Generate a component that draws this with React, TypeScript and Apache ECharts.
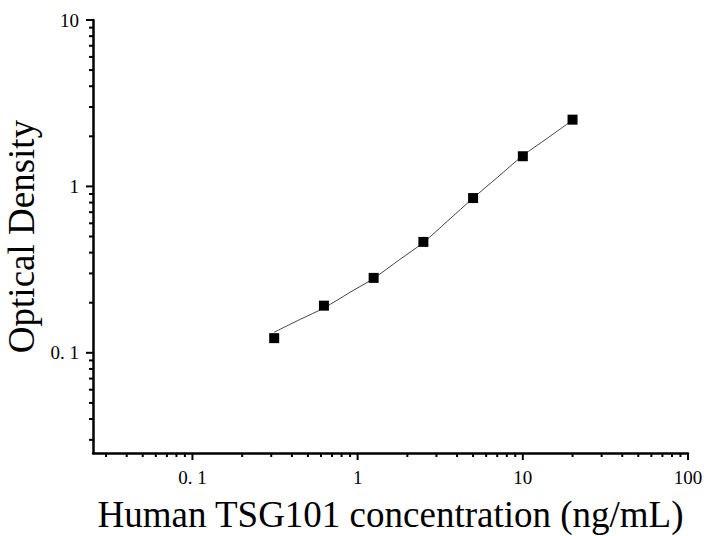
import React, { useEffect, useRef } from "react";
import * as echarts from "echarts";

// ---- Data ----
const concentrations = [0.3125, 0.625, 1.25, 2.5, 5, 10, 20];
const opticalDensity = [0.1225, 0.192, 0.282, 0.464, 0.851, 1.518, 2.518];

// fitted curve
const curveX = [0.3125, 0.45, 0.625, 0.9, 1.25, 1.8, 2.5, 3.5, 5, 7, 10, 14, 20];
const curveY = [0.133, 0.159, 0.186, 0.231, 0.28, 0.364, 0.46, 0.619, 0.85, 1.13, 1.53, 1.94, 2.5];

const xMajorTicks = [0.1, 1, 10, 100];
const xTickLabels = ["0. 1", "1", "10", "100"];
const yMajorTicks = [0.1, 1, 10];
const yTickLabels = ["0. 1", "1", "10"];
const xMinorTicks = [
  0.03, 0.04, 0.05, 0.06, 0.07, 0.08, 0.09,
  0.2, 0.3, 0.4, 0.5, 0.6, 0.7, 0.8, 0.9,
  2, 3, 4, 5, 6, 7, 8, 9,
  20, 30, 40, 50, 60, 70, 80, 90,
];
const yMinorTicks = [
  0.03, 0.04, 0.05, 0.06, 0.07, 0.08, 0.09,
  0.2, 0.3, 0.4, 0.5, 0.6, 0.7, 0.8, 0.9,
  2, 3, 4, 5, 6, 7, 8, 9,
];
const xMin = 0.025;
const xMax = 100;
const yMin = 0.025;
const yMax = 10;

const xTitle = "Human TSG101 concentration (ng/mL)";
const yTitle = "Optical Density";

const FONT = "'Liberation Serif', 'Times New Roman', serif";

function labelFor(values: number[], labels: string[]) {
  return (v: number) => {
    for (let i = 0; i < values.length; i++) {
      if (Math.abs(Math.log10(v) - Math.log10(values[i])) < 1e-6) return "{t|" + labels[i] + "}";
    }
    return "";
  };
}

const labelRich = {
  t: { fontFamily: FONT, fontSize: 19, color: "#000" },
};

export default function App() {
  const ref = useRef<HTMLDivElement>(null);

  useEffect(() => {
    if (!ref.current) return;
    const chart = echarts.init(ref.current, null, { renderer: "svg" });

    const tickData: number[][] = [];
    xMajorTicks.forEach((v) => tickData.push([v, yMin, 0, 7]));
    xMinorTicks.forEach((v) => tickData.push([v, yMin, 0, 4]));
    yMajorTicks.forEach((v) => tickData.push([xMin, v, 1, 7]));
    yMinorTicks.forEach((v) => tickData.push([xMin, v, 1, 4]));

    chart.setOption({
      animation: false,
      backgroundColor: "#ffffff",
      grid: {
        left: 93,
        top: 20,
        right: 16,
        bottom: 83,
        containLabel: false,
        outerBoundsMode: "none",
      },
      xAxis: {
        type: "log",
        logBase: 10,
        min: xMin,
        max: xMax,
        position: "bottom",
        name: xTitle,
        nameLocation: "middle",
        nameGap: 43,
        nameTextStyle: { fontFamily: FONT, fontSize: 37, color: "#000" },
        axisLine: { show: true, lineStyle: { color: "#000", width: 2.5 } },
        axisTick: { show: false },
        splitLine: { show: false },
        minorTick: { show: false },
        axisLabel: {
          show: true,
          margin: 15,
          color: "#000",
          fontFamily: FONT,
          fontSize: 19,
          formatter: labelFor(xMajorTicks, xTickLabels),
          rich: labelRich,
        },
      },
      yAxis: {
        type: "log",
        logBase: 10,
        min: yMin,
        max: yMax,
        position: "left",
        name: yTitle,
        nameLocation: "middle",
        nameGap: 50,
        nameRotate: 90,
        nameTextStyle: { fontFamily: FONT, fontSize: 37, color: "#000" },
        axisLine: { show: true, lineStyle: { color: "#000", width: 2.5 } },
        axisTick: { show: false },
        splitLine: { show: false },
        minorTick: { show: false },
        axisLabel: {
          show: true,
          margin: 14,
          color: "#000",
          fontFamily: FONT,
          fontSize: 19,
          formatter: labelFor(yMajorTicks, yTickLabels),
          rich: labelRich,
        },
      },
      series: [
        {
          type: "custom",
          clip: false,
          silent: true,
          data: tickData,
          renderItem: (params: any, api: any) => {
            const x = api.value(0);
            const y = api.value(1);
            const kind = api.value(2);
            const len = api.value(3);
            const p = api.coord([x, y]);
            const shape =
              kind === 0
                ? { x1: p[0], y1: p[1], x2: p[0], y2: p[1] + len }
                : { x1: p[0], y1: p[1], x2: p[0] - len, y2: p[1] };
            return {
              type: "line",
              shape,
              style: { stroke: "#000", lineWidth: 2 },
            };
          },
          z: 5,
        },
        {
          type: "line",
          data: curveX.map((x, i) => [x, curveY[i]]),
          smooth: 0.3,
          showSymbol: false,
          symbol: "none",
          lineStyle: { color: "#444", width: 1 },
          z: 2,
        },
        {
          type: "scatter",
          data: concentrations.map((x, i) => [x, opticalDensity[i]]),
          symbol: "rect",
          symbolSize: 10,
          itemStyle: { color: "#000", opacity: 1 },
          z: 3,
        },
      ],
    });

    return () => {
      chart.dispose();
    };
  }, []);

  return (
    <div
      ref={ref}
      style={{ position: "fixed", left: 0, top: 0, width: 704, height: 536, background: "#fff" }}
    />
  );
}
